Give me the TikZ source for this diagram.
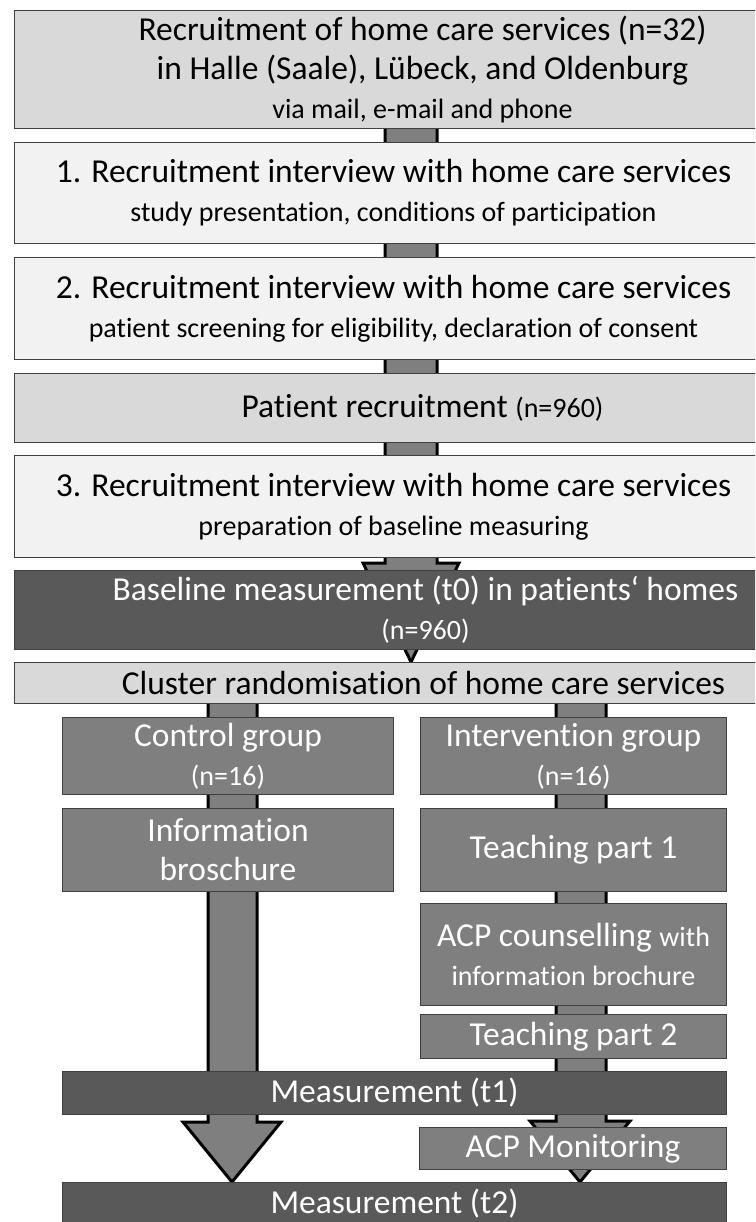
\documentclass[tikz,border=0pt]{standalone}
\usepackage{fontspec}
\setmainfont[Ligatures=NoCommon]{Carlito}
\usetikzlibrary{backgrounds}

\definecolor{boxpale}{HTML}{F2F2F2}
\definecolor{boxlight}{HTML}{D9D9D9}
\definecolor{boxmid}{HTML}{7F7F7F}
\definecolor{boxdark}{HTML}{595959}
\definecolor{boxline}{HTML}{404040}
\newcommand{\mainsize}{\fontsize{33.5}{39}\selectfont}
\newcommand{\subsize}{\fontsize{28}{34}\selectfont}

\begin{document}
\begin{tikzpicture}[x=1pt, y=-1pt]
    \tikzstyle{every node}=[draw=boxline, line width=1pt, anchor=north west, inner sep=0pt, align=center, font=\mainsize]
    \tikzstyle{pale}=[fill=boxpale]
    \tikzstyle{light}=[fill=boxlight]
    \tikzstyle{mid}=[fill=boxmid, text=white]
    \tikzstyle{dark}=[fill=boxdark, text=white]
    \tikzstyle{flow}=[draw=black, line width=3pt, fill=boxmid, line join=miter]
    \useasboundingbox (0,0) rectangle (755,1222);
    \clip (0,0) rectangle (755,1222);
    % recruitment chain
    \node [light, minimum width=816pt, minimum height=118pt] (services) at (14,10) {Recruitment of home care services (n=32)\\in Halle (Saale), Lübeck, and Oldenburg\\{\subsize via mail, e-mail and phone}};
    \node [pale, minimum width=758pt, minimum height=101pt] (first) at (14,142) {1. Recruitment interview with home care services\\{\subsize study presentation, conditions of participation}};
    \node [pale, minimum width=758pt, minimum height=102pt] (second) at (14,257) {2. Recruitment interview with home care services\\{\subsize patient screening for eligibility, declaration of consent}};
    \node [light, minimum width=816pt, minimum height=69pt] (patients) at (14,373) {Patient recruitment {\subsize (n=960)}};
    \node [pale, minimum width=758pt, minimum height=102pt] (third) at (14,455) {3. Recruitment interview with home care services\\{\subsize preparation of baseline measuring}};
    \node [dark, minimum width=822pt, minimum height=79pt] (baseline) at (14,570) {Baseline measurement (t0) in patients‘ homes\\{\subsize (n=960)}};
    \node [light, minimum width=818pt, minimum height=41pt] (cluster) at (14,662) {Cluster randomisation of home care services};
    % control arm
    \node [mid, minimum width=331pt, minimum height=77pt] (control) at (62,717) {Control group\\{\subsize (n=16)}};
    \node [mid, minimum width=331pt, minimum height=83pt] (brochure) at (62,808) {Information\\broschure};
    % intervention arm
    \node [mid, minimum width=306pt, minimum height=77pt] (intervention) at (420,717) {Intervention group\\{\subsize (n=16)}};
    \node [mid, minimum width=306pt, minimum height=83pt] (teachA) at (420,808) {Teaching part 1};
    \node [mid, minimum width=306pt, minimum height=102pt] (counsel) at (420,903) {ACP counselling {\subsize with}\\{\subsize information brochure}};
    \node [mid, minimum width=306pt, minimum height=44pt] (teachB) at (420,1014) {Teaching part 2};
    % follow-up
    \node [dark, minimum width=664pt, minimum height=43pt] (tone) at (62,1071) {Measurement (t1)};
    \node [mid, minimum width=307pt, minimum height=42pt] (monitor) at (419,1127) {ACP Monitoring};
    \node [dark, minimum width=664pt, minimum height=43pt] (ttwo) at (62,1182) {Measurement (t2)};

    \begin{pgfonlayer}{background}
        \draw [flow] (385,0 |- services.center) -- (385,563) -- (363,563) -- (411,0 |- cluster.north) -- (459,563) -- (437,563) -- (437,0 |- services.center) -- cycle;
        \draw [flow] (208,0 |- cluster.center) -- (208,1122) -- (183,1122) -- (232,0 |- ttwo.north) -- (281,1122) -- (257,1122) -- (257,0 |- cluster.center) -- cycle;
        \draw [flow] (556,0 |- cluster.center) -- (556,1121) -- (530,1121) -- (580,0 |- ttwo.north) -- (630,1121) -- (606,1121) -- (606,0 |- cluster.center) -- cycle;
    \end{pgfonlayer}
\end{tikzpicture}
\end{document}
